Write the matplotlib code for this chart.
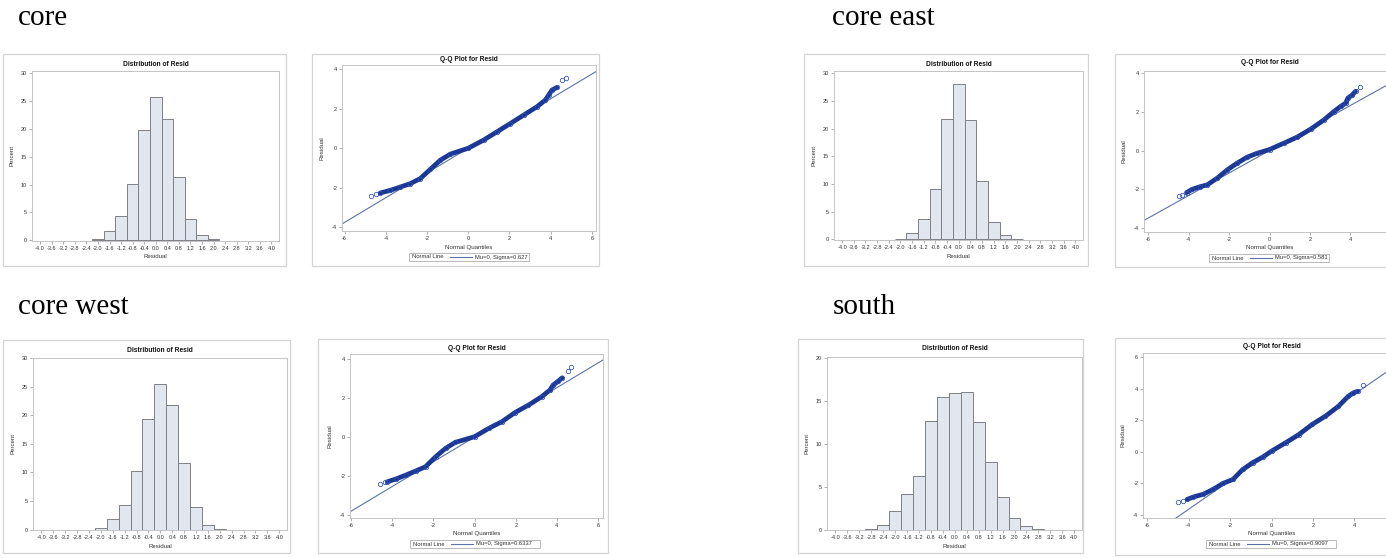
import matplotlib
matplotlib.use('Agg')
import matplotlib.pyplot as plt
from matplotlib.patches import Rectangle
from matplotlib.lines import Line2D
import numpy as np

W, H = 1386, 558

# ---------------- data ----------------
section_labels = ['core', 'core east', 'core west', 'south']

hist_ticks = [-4.0, -3.6, -3.2, -2.8, -2.4, -2.0, -1.6, -1.2, -0.8, -0.4, 0.0,
              0.4, 0.8, 1.2, 1.6, 2.0, 2.4, 2.8, 3.2, 3.6, 4.0]
hist_tick_labels = ['-4.0', '-3.6', '-3.2', '-2.8', '-2.4', '-2.0', '-1.6', '-1.2', '-0.8', '-0.4', '0.0',
                    '0.4', '0.8', '1.2', '1.6', '2.0', '2.4', '2.8', '3.2', '3.6', '4.0']

bins_a = [-2.0, -1.6, -1.2, -0.8, -0.4, 0.0, 0.4, 0.8, 1.2, 1.6, 2.0]
core_pct = [0.2, 1.7, 4.3, 10.1, 19.8, 25.7, 21.7, 11.4, 3.9, 1.0, 0.15]
east_pct = [0.15, 1.1, 3.7, 9.1, 21.7, 28.0, 21.6, 10.5, 3.2, 0.7, 0.15]
west_pct = [0.3, 1.9, 4.4, 10.3, 19.3, 25.5, 21.8, 11.6, 4.0, 0.9, 0.1]
bins_s = [-2.8, -2.4, -2.0, -1.6, -1.2, -0.8, -0.4, 0.0, 0.4, 0.8, 1.2, 1.6, 2.0, 2.4, 2.8]
south_pct = [0.1, 0.5, 2.2, 4.2, 6.3, 12.7, 15.5, 16.0, 16.1, 12.6, 7.9, 3.8, 1.4, 0.45, 0.1]

hist_yticks_30 = [0, 5, 10, 15, 20, 25, 30]
hist_yticks_20 = [0, 5, 10, 15, 20]
qq_xticks_full = [-6, -4, -2, 0, 2, 4, 6]
qq_xticks_cut = [-6, -4, -2, 0, 2, 4]   # the "6" lies beyond the page edge on the right column
qq_yticks_4 = [-4, -2, 0, 2, 4]
qq_yticks_6 = [-4, -2, 0, 2, 4, 6]

# Q-Q curves (normal quantile, residual)
core_qx = [-4.27, -3.79, -3.3, -2.82, -2.33, -1.84, -1.36, -0.87, 0.0, 0.74, 1.39, 2.04, 2.69, 3.33, 3.74, 3.9, 4.06, 4.3]
core_qy = [-2.27, -2.14, -1.97, -1.8, -1.54, -1.07, -0.61, -0.3, 0.0, 0.41, 0.83, 1.25, 1.68, 2.1, 2.44, 2.69, 2.95, 3.08]
core_tx = [-4.71, -4.48, 4.55, 4.74]
core_ty = [-2.44, -2.34, 3.46, 3.56]

east_qx = [-4.1, -3.82, -3.41, -3.08, -2.59, -2.09, -1.6, -1.1, -0.61, 0.0, 0.71, 1.37, 2.03, 2.69, 3.18, 3.51, 3.76, 3.87, 4.09, 4.25]
east_qy = [-2.17, -2.0, -1.86, -1.77, -1.43, -1.0, -0.65, -0.34, -0.14, 0.05, 0.38, 0.69, 1.1, 1.58, 2.01, 2.27, 2.44, 2.7, 2.87, 3.05]
east_tx = [-4.48, -4.32, 4.46]
east_ty = [-2.32, -2.29, 3.27]

west_qx = [-4.23, -3.82, -3.34, -2.86, -2.38, -1.89, -1.41, -0.93, 0.0, 0.68, 1.33, 1.97, 2.62, 3.26, 3.66, 3.82, 4.07, 4.26]
west_qy = [-2.29, -2.15, -1.95, -1.74, -1.52, -1.01, -0.58, -0.27, 0.02, 0.44, 0.79, 1.26, 1.64, 2.07, 2.41, 2.67, 2.87, 3.04]
west_tx = [-4.58, -4.36, 4.52, 4.68]
west_ty = [-2.43, -2.31, 3.38, 3.57]

south_qx = [-4.06, -3.77, -3.3, -2.82, -2.34, -1.86, -1.39, -0.91, -0.43, 0.0, 0.68, 1.32, 1.96, 2.6, 3.23, 3.71, 3.95, 4.16]
south_qy = [-3.01, -2.86, -2.69, -2.38, -2.0, -1.75, -1.12, -0.69, -0.34, 0.04, 0.57, 1.09, 1.73, 2.25, 2.88, 3.52, 3.73, 3.83]
south_tx = [-4.49, -4.25, 4.43]
south_ty = [-3.18, -3.12, 4.21]

qq_mu = [0, 0, 0, 0]
qq_sigma = [0.627, 0.581, 0.6337, 0.9097]
qq_legend = ['Mu=0, Sigma=0.627', 'Mu=0, Sigma=0.581', 'Mu=0, Sigma=0.6337', 'Mu=0, Sigma=0.9097']

# ---------------- style ----------------
SANS = 'Liberation Sans'
BAR_FILL = '#E2E6EF'
BAR_EDGE = '#7E8086'
FRAME = '#D4D4D4'
SPINE = '#C4C4C4'
TXT = '#333333'
PT = '#1B3794'
REF = '#5B74A8'

fig = plt.figure(figsize=(W / 100, H / 100), dpi=100)
fig.patch.set_facecolor('white')


def fx(px):
    return px / W


def fy(py):
    return 1 - py / H


def frame(l, t, r, b):
    fig.add_artist(Rectangle((fx(l), fy(b)), (r - l) / W, (b - t) / H,
                             transform=fig.transFigure, fill=False, ec=FRAME, lw=0.9))


def make_ax(l, t, r, b):
    ax = fig.add_axes([fx(l), fy(b), (r - l) / W, (b - t) / H])
    for s in ax.spines.values():
        s.set_color(SPINE)
        s.set_linewidth(0.7)
    ax.tick_params(labelsize=4, length=2, width=0.5, color='#8F8F8F', pad=1.5,
                   labelcolor=TXT)
    return ax


def labels(l, t, r, b, title, title_y, xl, yl):
    fig.text(fx((l + r) / 2), fy(title_y), title, ha='center', va='center',
             fontsize=4.8, fontweight='bold', family=SANS, color='#111111')
    fig.text(fx((l + r) / 2), fy(b + 16), xl, ha='center', va='center',
             fontsize=4.4, family=SANS, color=TXT)
    fig.text(fx(l - 20), fy((t + b) / 2), yl, ha='center', va='center', rotation=90,
             fontsize=4.4, family=SANS, color=TXT)


def hist_panel(box, axbox, centers, vals, yticks, ylim, title_y):
    frame(*box)
    l, t, r, b = axbox
    ax = make_ax(l, t, r, b)
    ax.bar(centers, vals, width=0.4, color=BAR_FILL, edgecolor=BAR_EDGE, linewidth=0.7)
    ax.set_xlim(-4.28, 4.26)
    ax.set_ylim(*ylim)
    ax.set_xticks(hist_ticks)
    ax.set_xticklabels(hist_tick_labels, family=SANS)
    ax.set_yticks(yticks)
    ax.set_yticklabels([str(v) for v in yticks], family=SANS)
    labels(l, t, r, b, 'Distribution of Resid', title_y, 'Residual', 'Percent')
    return ax


def qq_panel(box, axbox, qx, qy, tx, ty, mu, sigma, leg, xlim, ylim, xticks, yticks,
             title_y, leg_cx, leg_w):
    frame(*box)
    l, t, r, b = axbox
    ax = make_ax(l, t, r, b)
    ax.set_xlim(*xlim)
    ax.set_ylim(*ylim)
    xs = np.array(xlim)
    ax.plot(xs, mu + sigma * xs, color=REF, lw=0.8, zorder=2)
    ax.plot(qx, qy, color=PT, lw=3.4, solid_capstyle='round', solid_joinstyle='round', zorder=3)
    ax.plot(list(qx) + list(tx), list(qy) + list(ty), ls='none', marker='o', ms=3.2,
            mfc='none', mec='#2B4DB5', mew=0.55, zorder=4)
    ax.set_xticks(xticks)
    ax.set_xticklabels([str(v) for v in xticks], family=SANS)
    ax.set_yticks(yticks)
    ax.set_yticklabels([str(v) for v in yticks], family=SANS)
    labels(l, t, r, b, 'Q-Q Plot for Resid', title_y, 'Normal Quantiles', 'Residual')
    # legend box below the x label
    bl = leg_cx - leg_w / 2
    lt = b + 22
    fig.add_artist(Rectangle((fx(bl), fy(lt + 8)), leg_w / W, 8 / H, transform=fig.transFigure,
                             fill=False, ec='#B0B0B0', lw=0.6))
    fig.text(fx(bl + 3), fy(lt + 4), 'Normal Line', ha='left', va='center', fontsize=4.2,
             family=SANS, color=TXT)
    fig.add_artist(Line2D([fx(bl + 41), fx(bl + 63)], [fy(lt + 4), fy(lt + 4)],
                          transform=fig.transFigure, color=REF, lw=0.8))
    fig.text(fx(bl + 66), fy(lt + 4), leg, ha='left', va='center', fontsize=4.2,
             family=SANS, color=TXT)
    return ax


# section labels
fig.text(fx(18), fy(25), section_labels[0], fontsize=21, family='Liberation Serif', va='baseline')
fig.text(fx(832), fy(25), section_labels[1], fontsize=21, family='Liberation Serif', va='baseline')
fig.text(fx(18), fy(314), section_labels[2], fontsize=21, family='Liberation Serif', va='baseline')
fig.text(fx(833), fy(314), section_labels[3], fontsize=21, family='Liberation Serif', va='baseline')

# core
hist_panel((3, 54, 286, 266), (32, 71, 279, 241), bins_a, core_pct, hist_yticks_30, (-0.12, 30.4), 64)
qq_panel((312, 54, 599, 266), (342, 65, 596, 231), core_qx, core_qy, core_tx, core_ty,
         qq_mu[0], qq_sigma[0], qq_legend[0], (-6.13, 6.2), (-4.2, 4.22),
         qq_xticks_full, qq_yticks_4, 59, 469, 120)

# core east
hist_panel((804, 54, 1088, 266), (834, 71, 1083, 240), bins_a, east_pct, hist_yticks_30, (-0.12, 30.4), 64)
qq_panel((1115, 54, 1400, 267), (1144, 71, 1395, 232), east_qx, east_qy, east_tx, east_ty,
         qq_mu[1], qq_sigma[1], qq_legend[1], (-6.2, 6.2), (-4.2, 4.1),
         qq_xticks_cut, qq_yticks_4, 63, 1269, 120)

# core west
hist_panel((3, 340, 290, 553), (33, 358, 287, 530), bins_a, west_pct, hist_yticks_30, (-0.05, 30.0), 350)
qq_panel((318, 339, 608, 553), (350, 354, 603, 518), west_qx, west_qy, west_tx, west_ty,
         qq_mu[2], qq_sigma[2], qq_legend[2], (-6.05, 6.24), (-4.15, 4.26),
         qq_xticks_full, qq_yticks_4, 348, 475, 130)

# south
hist_panel((798, 339, 1083, 553), (827, 357, 1082, 530), bins_s, south_pct, hist_yticks_20, (-0.04, 20.15), 349)
qq_panel((1115, 338, 1400, 555), (1143, 353, 1400, 518), south_qx, south_qy, south_tx, south_ty,
         qq_mu[3], qq_sigma[3], qq_legend[3], (-6.2, 6.2), (-4.19, 6.25),
         qq_xticks_cut, qq_yticks_6, 346, 1271, 130)

fig.savefig('out.png', dpi=100, facecolor='white')
